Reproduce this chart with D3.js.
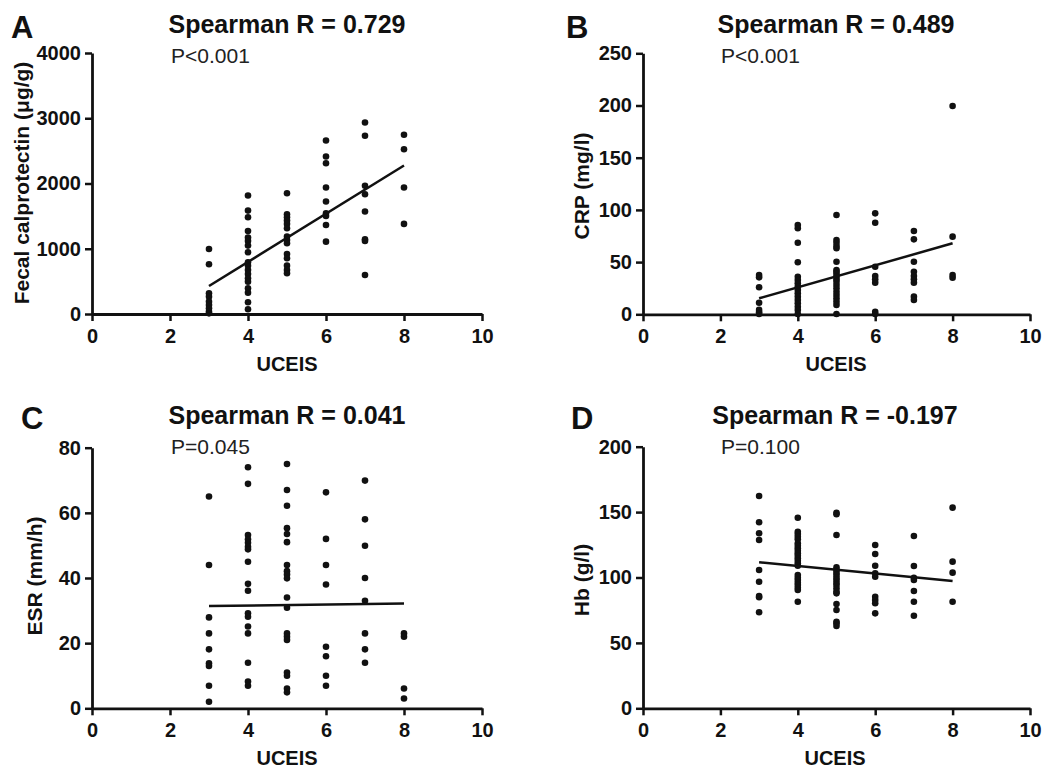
<!DOCTYPE html>
<html>
<head>
<meta charset="utf-8">
<script src="https://cdn.jsdelivr.net/npm/d3@7"></script>
<style>
  body { margin: 0; background: #fff; }
  svg text { font-family: "Liberation Sans", Arial, sans-serif; fill: #111; }
</style>
</head>
<body>
<script>
let w = 1047;
let h = 769;

// UCEIS scores that have patients; each value array below lines up with these
let scores = [3, 4, 5, 6, 7, 8];
let fitX = [3, 8];

// A: fecal calprotectin (µg/g)
let calprotectin = [
  [997, 762, 317, 266, 189, 138, 87, 36, 10],
  [1815, 1585, 1483, 1273, 1171, 1120, 1048, 946, 793, 741, 675, 614, 547, 496, 394, 327, 179, 72],
  [1851, 1529, 1483, 1432, 1381, 1314, 1186, 1135, 1084, 920, 854, 741, 675, 624],
  [2659, 2413, 2311, 1938, 1723, 1544, 1503, 1365, 1109],
  [2935, 2731, 1964, 1836, 1570, 1145, 1120, 598],
  [2746, 2526, 1938, 1381]
];
let calprotectinFit = [430, 2275];

// B: CRP (mg/l)
let crp = [
  [37.6, 35.4, 25.9, 11.1, 4.2, 1.9, 0.3],
  [85.5, 82.4, 68.6, 49.8, 36, 32.9, 29.7, 26.5, 23.3, 20.1, 16.9, 13.7, 10.5, 7.3, 4.1, 0.3],
  [95.1, 71.2, 68.6, 65.4, 63.2, 50.4, 42.4, 40.8, 38.6, 36, 33.5, 31.2, 28.1, 24.9, 21.6, 18.5, 15.3, 12.1, 8.9, 0.3],
  [96.7, 87.7, 45.6, 36.7, 33.5, 30.3, 2.5, 0.3],
  [79.8, 71.8, 50.4, 40.8, 36.7, 33.5, 30.3, 16.9, 13.7],
  [199.5, 74.4, 37.6, 35]
];
let crpFit = [15.3, 68];

// C: ESR (mm/h)
let esr = [
  [65, 44, 27.9, 23, 18.1, 13.8, 13, 6.9, 2],
  [74, 68.9, 53.2, 51.9, 50.8, 49.6, 48.8, 45, 38.2, 36.1, 29.2, 28.1, 25.1, 23, 14, 8.2, 6.9],
  [75, 67, 62.2, 55.3, 53.5, 51, 44, 42.1, 41.1, 39.9, 34, 30.9, 23, 22, 21, 11, 10, 6.1, 4.9],
  [66.3, 52, 44, 38, 18.9, 16, 10, 6.9],
  [69.9, 58, 49.9, 40, 33, 23, 18.1, 14],
  [23, 22, 6.1, 3]
];
let esrFit = [31.4, 32.2];

// D: Hb (g/l)
let hb = [
  [162.3, 142.2, 133.8, 128.7, 105.7, 96.8, 85.9, 84.9, 73.4],
  [145.7, 135, 133.3, 131.2, 129.2, 126.1, 124.3, 122.3, 120.5, 118.5, 116.7, 114.7, 112.8, 110.8, 109,
   101.9, 99.8, 98.1, 96, 94.3, 92.2, 90.4, 81.5],
  [149.5, 148.3, 132.5, 107.8, 105.7, 103.7, 101.9, 99.8, 98.1, 96, 94.3, 91.7, 89.2, 87.9, 79.7, 75.2, 66.2, 65, 62.9],
  [124.8, 118, 109, 103.2, 100.6, 85.3, 82.8, 80.3, 72.6],
  [131.7, 108.8, 99.8, 98.1, 89.7, 81.5, 70.8],
  [153.4, 112.1, 103.7, 81.5]
];
let hbFit = [111.6, 97.3];

let xTicks = [0, 2, 4, 6, 8, 10];

let svg = d3.select('body')
  .append('svg')
  .attr('width', w)
  .attr('height', h);

let drawPanel = (p) => {
  let g = svg.append('g');

  let xScale = d3.scaleLinear().domain([0, 10]).range([p.left, p.right]);
  let yScale = d3.scaleLinear().domain([0, p.yMax]).range([p.bottom, p.top]);

  // axes
  let xAxis = g.append('g')
    .attr('transform', `translate(0,${p.bottom})`)
    .call(d3.axisBottom(xScale).tickValues(xTicks).tickFormat(d3.format('d'))
      .tickSize(7).tickSizeOuter(0).tickPadding(8));
  let yAxis = g.append('g')
    .attr('transform', `translate(${p.left},0)`)
    .call(d3.axisLeft(yScale).tickValues(p.yTicks).tickFormat(d3.format('d'))
      .tickSize(7).tickSizeOuter(0).tickPadding(4));

  [xAxis, yAxis].forEach((a) => {
    a.select('.domain').attr('stroke', '#111').attr('stroke-width', 2.8);
    a.selectAll('.tick line').attr('stroke', '#111').attr('stroke-width', 2.5);
    a.selectAll('.tick text')
      .style('fill', '#111')
      .style('font-size', '20px')
      .style('font-weight', 'bold')
      .style('font-family', '"Liberation Sans", Arial, sans-serif');
  });

  // points
  let pts = [];
  p.values.forEach((vals, i) => {
    vals.forEach((v) => { pts.push({ x: scores[i], y: v }); });
  });
  g.selectAll('circle')
    .data(pts)
    .enter()
    .append('circle')
    .attr('cx', (d) => { return xScale(d.x); })
    .attr('cy', (d) => { return yScale(d.y); })
    .attr('r', 3.3)
    .attr('fill', '#111');

  // fitted line
  g.append('line')
    .attr('x1', xScale(fitX[0]))
    .attr('y1', yScale(p.fit[0]))
    .attr('x2', xScale(fitX[1]))
    .attr('y2', yScale(p.fit[1]))
    .attr('stroke', '#111')
    .attr('stroke-width', 2.5);

  // labels
  g.append('text')
    .attr('x', p.letterX)
    .attr('y', p.titleY + 5)
    .style('font-size', '31px')
    .style('font-weight', 'bold')
    .text(p.letter);

  g.append('text')
    .attr('x', p.titleX)
    .attr('y', p.titleY)
    .attr('text-anchor', 'middle')
    .style('font-size', '25px')
    .style('font-weight', 'bold')
    .text(p.title);

  g.append('text')
    .attr('x', p.pX)
    .attr('y', p.titleY + 30)
    .style('font-size', '21px')
    .style('fill', '#222')
    .text(p.pText);

  g.append('text')
    .attr('x', p.titleX)
    .attr('y', p.bottom + 57)
    .attr('text-anchor', 'middle')
    .style('font-size', '20px')
    .style('font-weight', 'bold')
    .text('UCEIS');

  g.append('text')
    .attr('transform', `translate(${p.yTitleX},${p.yTitleY}) rotate(-90)`)
    .attr('text-anchor', 'middle')
    .style('font-size', '21px')
    .style('font-weight', 'bold')
    .text(p.yTitle);
};

drawPanel({
  letter: 'A', letterX: 11, title: 'Spearman R = 0.729', pText: 'P<0.001',
  titleX: 287, titleY: 33, pX: 171,
  left: 92, right: 482, top: 53, bottom: 314,
  yMax: 4000, yTicks: [0, 1000, 2000, 3000, 4000],
  values: calprotectin, fit: calprotectinFit,
  yTitle: 'Fecal calprotectin (μg/g)', yTitleX: 29, yTitleY: 183
});

drawPanel({
  letter: 'B', letterX: 566, title: 'Spearman R = 0.489', pText: 'P<0.001',
  titleX: 836, titleY: 33, pX: 721,
  left: 643, right: 1030, top: 53.3, bottom: 314.3,
  yMax: 250, yTicks: [0, 50, 100, 150, 200, 250],
  values: crp, fit: crpFit,
  yTitle: 'CRP (mg/l)', yTitleX: 589, yTitleY: 186
});

drawPanel({
  letter: 'C', letterX: 21, title: 'Spearman R = 0.041', pText: 'P=0.045',
  titleX: 287, titleY: 424, pX: 171,
  left: 92, right: 482, top: 447.7, bottom: 708.3,
  yMax: 80, yTicks: [0, 20, 40, 60, 80],
  values: esr, fit: esrFit,
  yTitle: 'ESR (mm/h)', yTitleX: 42, yTitleY: 576
});

drawPanel({
  letter: 'D', letterX: 571, title: 'Spearman R = -0.197', pText: 'P=0.100',
  titleX: 835, titleY: 424, pX: 721,
  left: 643, right: 1030, top: 446.7, bottom: 708.3,
  yMax: 200, yTicks: [0, 50, 100, 150, 200],
  values: hb, fit: hbFit,
  yTitle: 'Hb (g/l)', yTitleX: 589, yTitleY: 580
});
</script>
</body>
</html>
